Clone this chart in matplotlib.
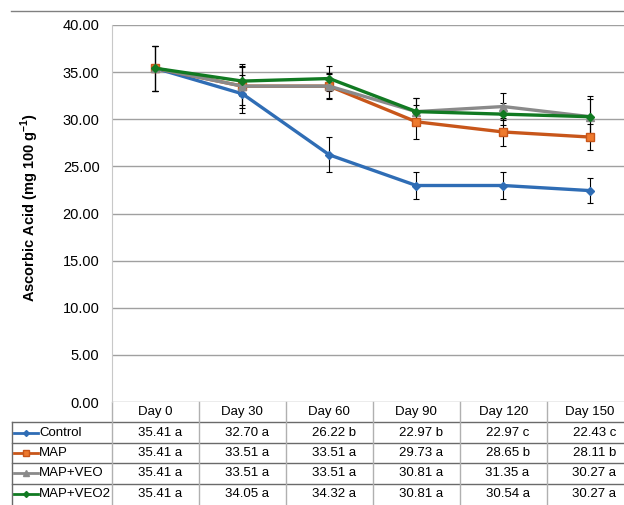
import matplotlib
matplotlib.use("Agg")
import matplotlib.pyplot as plt
import matplotlib.transforms as mtransforms
from matplotlib.lines import Line2D

plt.rcParams['font.family'] = ['Liberation Sans', 'DejaVu Sans']
plt.rcParams['mathtext.fontset'] = 'custom'
plt.rcParams['mathtext.rm'] = 'Liberation Sans'
plt.rcParams['mathtext.bf'] = 'Liberation Sans:bold'

days = ["Day 0", "Day 30", "Day 60", "Day 90", "Day 120", "Day 150"]
series = ["Control", "MAP", "MAP+VEO", "MAP+VEO2"]
control = [35.41, 32.70, 26.22, 22.97, 22.97, 22.43]
map_ = [35.41, 33.51, 33.51, 29.73, 28.65, 28.11]
map_veo = [35.41, 33.51, 33.51, 30.81, 31.35, 30.27]
map_veo2 = [35.41, 34.05, 34.32, 30.81, 30.54, 30.27]
control_err = [2.4, 2.0, 1.85, 1.4, 1.4, 1.35]
map_err = [2.4, 2.3, 1.35, 1.8, 1.45, 1.4]
map_veo_err = [2.4, 2.0, 1.3, 1.45, 1.45, 1.9]
map_veo2_err = [2.4, 1.6, 1.3, 1.45, 1.2, 2.16]
control_letters = ["a", "a", "b", "b", "c", "c"]
map_letters = ["a", "a", "a", "a", "b", "b"]
map_veo_letters = ["a", "a", "a", "a", "a", "a"]
map_veo2_letters = ["a", "a", "a", "a", "a", "a"]
yticks = [0, 5, 10, 15, 20, 25, 30, 35, 40]

values = [control, map_, map_veo, map_veo2]
errors = [control_err, map_err, map_veo_err, map_veo2_err]
letters = [control_letters, map_letters, map_veo_letters, map_veo2_letters]

# styles: line colour, marker, marker size, face colour
styles = [
    ("#2F6DB5", "D", 4, "#2F6DB5"),
    ("#C8561A", "s", 6, "#EE7A2E"),
    ("#8A8A8A", "^", 6, "#8A8A8A"),
    ("#117A22", "D", 4, "#117A22"),
]

W, H = 624, 505
fig = plt.figure(figsize=(W / 100, H / 100), dpi=100)
ax = fig.add_axes([112 / W, 103 / H, 521.6 / W, 377 / H])

x = list(range(len(days)))
for vals, err, (col, mk, ms, fc) in zip(values, errors, styles):
    ax.errorbar(x, vals, yerr=err, color=col, lw=2.4, marker=mk, ms=ms,
                mfc=fc, mec=col, ecolor="black", elinewidth=0.8,
                capsize=2.5, capthick=0.8)

ax.set_xlim(-0.5, 5.5)
ax.set_ylim(0, 40)
ax.set_xticks([])
ax.set_yticks(yticks)
ax.yaxis.set_major_formatter("{x:.2f}")
ax.tick_params(axis="y", length=0, pad=9, labelsize=10.5)
ax.grid(axis="y", color="#a0a0a0", lw=1)
ax.set_axisbelow(True)
for s in ["top", "right", "bottom"]:
    ax.spines[s].set_visible(False)
ax.spines["left"].set_color("#c8c8c8")

fig.text(30 / W, 1 - 207 / H, r"Ascorbic Acid (mg 100 g$^{\mathbf{-1}}$)",
         rotation=90, ha="center", va="center", fontsize=10.5, fontweight="bold")

# top rule
fig.add_artist(Line2D([11 / W, 1], [1 - 11 / H, 1 - 11 / H],
                      color="#808080", lw=1, transform=fig.transFigure))

# data table under the plot
tcol = mtransforms.blended_transform_factory(ax.transData, ax.transAxes)
tfig = mtransforms.blended_transform_factory(fig.transFigure, ax.transAxes)
row_h = 20.4 / 377
lc = "#6a6a6a"

for i, d in enumerate(days):
    ax.text(i, -row_h / 2, d, transform=tcol, ha="center", va="center",
            fontsize=9.5, clip_on=False)
for k in range(1, 5):
    ax.add_line(Line2D([12 / W, 1], [-k * row_h, -k * row_h], color=lc,
                       lw=1, transform=tfig, clip_on=False))
for i in range(len(days) + 1):
    ax.add_line(Line2D([i - 0.5, i - 0.5], [0, -5 * row_h], color="#b0b0b0",
                       lw=1, transform=tcol, clip_on=False))
ax.add_line(Line2D([12 / W, 12 / W], [-row_h, -5 * row_h], color=lc,
                   lw=1, transform=tfig, clip_on=False))

for r, (name, vals, lets, (col, mk, ms, fc)) in enumerate(
        zip(series, values, letters, styles)):
    yc = -(r + 1.5) * row_h
    ax.add_line(Line2D([14 / W, 38 / W], [yc, yc], color=col, lw=2,
                       transform=tfig, clip_on=False))
    ax.add_line(Line2D([26 / W], [yc], color=col, marker=mk, ms=ms - 1,
                       mfc=fc, mec=col, transform=tfig, clip_on=False))
    ax.text(39 / W, yc, name, transform=tfig, ha="left", va="center",
            fontsize=9.5, clip_on=False)
    for i, (v, l) in enumerate(zip(vals, lets)):
        ax.text(i + 0.05, yc, f"{v:.2f} {l}", transform=tcol, ha="center",
                va="center", fontsize=9.5, clip_on=False)

fig.savefig("out.png", dpi=100)
